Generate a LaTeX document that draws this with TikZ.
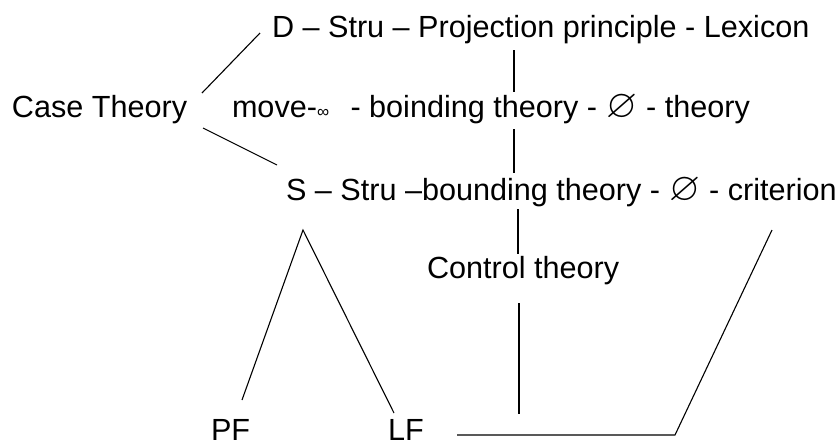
\RequirePackage{fix-cm}
\documentclass[tikz,border=0pt]{standalone}
\usepackage{graphicx}
\usepackage{amssymb}
\usepackage{fontspec}
\setmainfont{Liberation Sans}
\newcommand{\myempty}{\hspace{0.5pt}\scalebox{1.3}{$\varnothing$}\hspace{0.5pt}}
\begin{document}
\begin{tikzpicture}[x=1pt,y=-1pt,
  lbl/.style={anchor=base west,inner sep=0pt,outer sep=0pt,font=\fontsize{30.6}{36}\selectfont},
  ln/.style={line width=1.1pt,black}]
\useasboundingbox (0,0) rectangle (839,445);
% text
\node[lbl] (dstru) at (272,37) {D – Stru – Projection principle - Lexicon};
\node[lbl] (case) at (12,117) {Case Theory};
\node[lbl] (move) at (232,117) {move-{\fontsize{17}{17}\selectfont ∞}\hspace{0.7em}- boinding theory - \myempty{} - theory};
\node[lbl] (sstru) at (286,200) {S – Stru –bounding theory - \myempty{} - criterion};
\node[lbl] (control) at (427,278) {Control theory};
\node[lbl] (pf) at (211,440) {PF};
\node[lbl] (lf) at (388,440) {LF};
% line end points
\coordinate (c1a) at (202,93);  \coordinate (c1b) at (260,33);
\coordinate (c2a) at (203,128); \coordinate (c2b) at (277,165);
\coordinate (v1a) at (514,50);  \coordinate (v1b) at (514,92);
\coordinate (v2a) at (514,129); \coordinate (v2b) at (514,173);
\coordinate (v3a) at (518,209); \coordinate (v3b) at (518,254);
\coordinate (v4a) at (519,303); \coordinate (v4b) at (519,414);
\coordinate (apex) at (303,230);
\coordinate (pfend) at (242,400);
\coordinate (lfend) at (394,413);
\coordinate (h1) at (457,435);
\coordinate (h2) at (675,435);
\coordinate (rtop) at (772,230);
% lines
\draw[ln] (c1a) -- (c1b);
\draw[ln] (c2a) -- (c2b);
\draw[ln] (v1a) -- (v1b);
\draw[ln] (v2a) -- (v2b);
\draw[ln] (v3a) -- (v3b);
\draw[ln] (v4a) -- (v4b);
\draw[ln] (pfend) -- (apex) -- (lfend);
\draw[ln] (h1) -- (h2) -- (rtop);
\end{tikzpicture}
\end{document}
